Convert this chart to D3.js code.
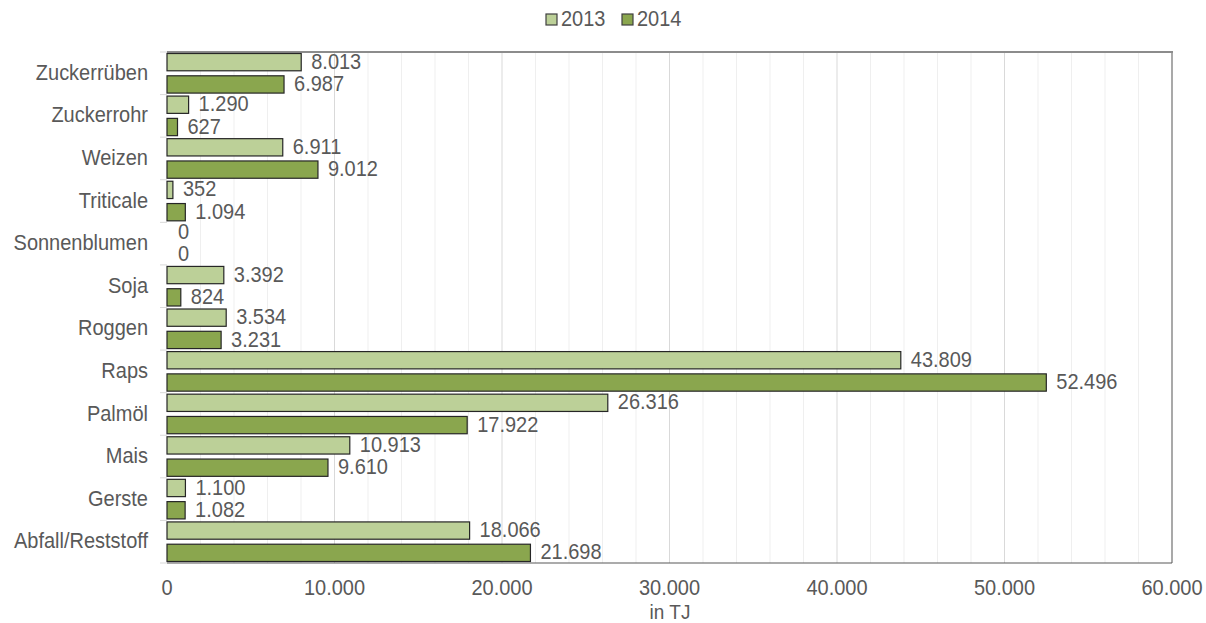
<!DOCTYPE html>
<html><head><meta charset="utf-8">
<script src="https://cdn.jsdelivr.net/npm/d3@7"></script>
<style>body{margin:0;background:#fff}svg{display:block}text{font-family:"Liberation Sans",Arial,sans-serif;fill:#595959}</style>
</head><body><svg id="c" width="1206" height="623"></svg>
<script>
const categories = ["Zuckerrüben","Zuckerrohr","Weizen","Triticale","Sonnenblumen","Soja","Roggen","Raps","Palmöl","Mais","Gerste","Abfall/Reststoff"];
const values2013 = [8013,1290,6911,352,0,3392,3534,43809,26316,10913,1100,18066];
const values2014 = [6987,627,9012,1094,0,824,3231,52496,17922,9610,1082,21698];
const seriesNames = ["2013","2014"];
const xTicks = [0,10000,20000,30000,40000,50000,60000];
const colors = ["#bcd098","#8aa64e"];

const svg = d3.select("#c");
const m = {l:167, r:1172, t:52, b:563};
const x = d3.scaleLinear().domain([0,60000]).range([m.l, m.r]);
const y = d3.scaleBand().domain(categories).range([m.t, m.b]);
const bw = y.bandwidth();
const barH = (bw - 6)/2;
const fmt = v => d3.format(",")(v).replace(/,/g, ".");
const SY = 1.06;
function txt(parent, px, py, s, size, anchor) {
  return parent.append("text")
    .attr("transform", `translate(${px},${py}) scale(1,${SY})`)
    .attr("text-anchor", anchor || "start")
    .attr("dominant-baseline", "middle")
    .attr("font-size", size).text(s);
}

// minor gridlines
const minor = d3.range(2000, 60000, 2000);
svg.append("g").selectAll("line").data(minor).join("line")
  .attr("x1", d=>x(d)).attr("x2", d=>x(d)).attr("y1", m.t).attr("y2", m.b)
  .attr("stroke", d => d % 10000 === 0 ? "#d9d9d9" : "#efefef").attr("stroke-width", 1);

// category ticks on left
svg.append("g").selectAll("line").data(d3.range(categories.length+1)).join("line")
  .attr("x1", m.l-7).attr("x2", m.l).attr("y1", i => m.t + i*bw).attr("y2", i => m.t + i*bw)
  .attr("stroke", "#d9d9d9");

// borders
svg.append("line").attr("x1", m.l).attr("x2", m.r+1).attr("y1", m.t).attr("y2", m.t).attr("stroke", "#8c8c8c").attr("stroke-width", 2);
svg.append("line").attr("x1", m.r).attr("x2", m.r).attr("y1", m.t).attr("y2", m.b).attr("stroke", "#8c8c8c").attr("stroke-width", 1.5);
svg.append("line").attr("x1", m.l).attr("x2", m.r).attr("y1", m.b).attr("y2", m.b).attr("stroke", "#595959").attr("stroke-width", 1.2);

const data = categories.map((c,i)=>({c, vals:[values2013[i], values2014[i]]}));
const g = svg.append("g");
data.forEach(d => {
  d.vals.forEach((v,k) => {
    const yy = y(d.c) + 1 + k*(barH+4);
    if (v > 0) {
      g.append("rect").attr("x", x(0)).attr("y", yy+0.5).attr("width", x(v)-x(0)).attr("height", barH-1)
        .attr("fill", colors[k]).attr("stroke", "#262626").attr("stroke-width", 1.2);
    }
    txt(g, x(v) + (v>0 ? 10 : 11), yy + barH/2 + 1, fmt(v), 20);
  });
});

// y labels
const yl = svg.append("g");
categories.forEach(c => txt(yl, 148, y(c) + bw/2 + 1, c, 20, "end"));

// x tick labels
const xl = svg.append("g");
xTicks.forEach(t => txt(xl, x(t), 589, fmt(t), 20, "middle"));

txt(svg, 670, 614, "in TJ", 19, "middle");

// legend
const lx = [546, 622];
seriesNames.forEach((s,k) => {
  svg.append("rect").attr("x", lx[k]).attr("y", 14).attr("width", 11).attr("height", 11)
    .attr("fill", colors[k]).attr("stroke", "#404040").attr("stroke-width", 1.2);
  txt(svg, lx[k]+15, 20, s, 20);
});
</script></body></html>
